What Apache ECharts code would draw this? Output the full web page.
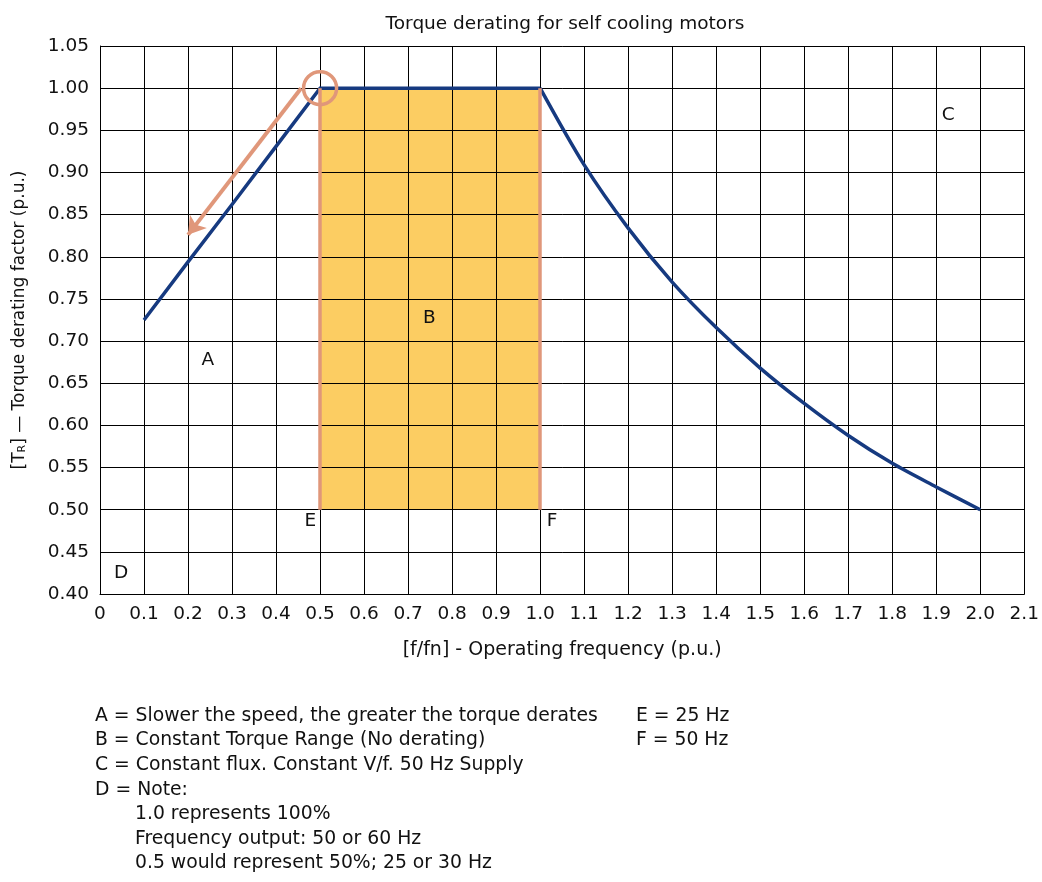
<!DOCTYPE html>
<html>
<head>
<meta charset="utf-8">
<title>Torque derating for self cooling motors</title>
<script src="https://cdn.jsdelivr.net/npm/echarts@6/dist/echarts.min.js"></script>
<style>
  html, body { margin: 0; padding: 0; background: #fff; }
  #chart { width: 1042px; height: 882px; }
</style>
</head>
<body>
<div id="chart"></div>
<script>
// Linear derating below half speed, then flat up to rated frequency
const freqRamp = [0.1, 0.2, 0.3, 0.4, 0.5, 1.0];
const torqueRamp = [0.725, 0.794, 0.862, 0.931, 1.0, 1.0];

// Constant V/f region above rated frequency
const freqCurve = [1.0, 1.1, 1.2, 1.3, 1.4, 1.5, 1.6, 1.7, 1.8, 1.9, 2.0];
const torqueCurve = [1.0, 0.909, 0.834, 0.77, 0.716, 0.668, 0.626, 0.588, 0.555, 0.527, 0.5];

// Constant torque band (E .. F) and its derating floor/ceiling
const bandFreq = [0.5, 1.0];
const bandTorque = [0.5, 1.0];

// Region letters: [label, frequency, torque]
const regionLabels = [
  ['A', 0.245, 0.677],
  ['B', 0.748, 0.727],
  ['C', 1.927, 0.968],
  ['D', 0.048, 0.425],
  ['E', 0.478, 0.486],
  ['F', 1.027, 0.486]
];

// Arrow pointing down the ramp from the corner point
const arrowFrom = [0.457, 1.0];
const arrowTo = [0.2, 0.826];
const cornerPoint = [0.5, 1.0];

const notesLeft = [
  'A = Slower the speed, the greater the torque derates',
  'B = Constant Torque Range (No derating)',
  'C = Constant flux. Constant V/f. 50 Hz Supply',
  'D = Note:'
];
const notesIndented = [
  '1.0 represents 100%',
  'Frequency output: 50 or 60 Hz',
  '0.5 would represent 50%; 25 or 30 Hz'
];
const notesRight = ['E = 25 Hz', 'F = 50 Hz'];

const FONT = 'DejaVu Sans, Liberation Sans, Arial, sans-serif';
const FS = 18.5;
const NAVY = '#163A80';
const SALMON = '#E0977A';
const AMBER = '#FCCD62';
const INK = '#111111';

const chart = echarts.init(document.getElementById('chart'), null, { renderer: 'canvas' });

const pair = (xs, ys) => xs.map((x, i) => [x, ys[i]]);

const graphics = [];
const lineStep = 24.6;
const noteTop = 716;
const noteText = (x, row, t) => ({
  type: 'text', x: x, y: noteTop + row * lineStep,
  style: { text: t, font: '18.8px ' + FONT, fill: INK, verticalAlign: 'middle', align: 'left' }
});
notesLeft.forEach((t, i) => graphics.push(noteText(95, i, t)));
notesIndented.forEach((t, i) => graphics.push(noteText(135, notesLeft.length + i, t)));
notesRight.forEach((t, i) => graphics.push(noteText(636, i, t)));

const option = {
  backgroundColor: '#fff',
  animation: false,
  textStyle: { fontFamily: FONT },
  title: {
    text: 'Torque derating for self cooling motors',
    left: 560, top: 10, textAlign: 'center',
    textStyle: { fontSize: FS, fontWeight: 'normal', color: INK, fontFamily: FONT }
  },
  grid: { left: 100, right: 17, top: 46, bottom: 288, containLabel: false },
  xAxis: {
    type: 'value', min: 0, max: 2.1, interval: 0.1, z: 2,
    name: '[f/fn] - Operating frequency (p.u.)',
    nameLocation: 'middle', nameGap: 47,
    nameTextStyle: { fontSize: 19, color: INK, fontFamily: FONT },
    axisLine: { show: true, lineStyle: { color: '#000', width: 1 } },
    axisTick: { show: false },
    axisLabel: { fontSize: FS, color: INK, margin: 11, fontFamily: FONT,
      formatter: v => (Math.abs(v) < 1e-9 ? '0' : v.toFixed(1)) },
    splitLine: { show: true, lineStyle: { color: '#000', width: 1 } }
  },
  yAxis: {
    type: 'value', min: 0.4, max: 1.05, interval: 0.05, z: 2,
    name: '[T{sub|R}] — Torque derating factor (p.u.)',
    nameLocation: 'middle', nameGap: 72, nameRotate: 90,
    nameTextStyle: { fontSize: 17, color: INK, fontFamily: FONT,
      rich: { sub: { fontSize: 11, color: INK, fontFamily: FONT, padding: [6, 0, 0, 0] } } },
    axisLine: { show: true, lineStyle: { color: '#000', width: 1 } },
    axisTick: { show: false },
    axisLabel: { fontSize: FS, color: INK, margin: 11, fontFamily: FONT,
      formatter: v => v.toFixed(2) },
    splitLine: { show: true, lineStyle: { color: '#000', width: 1 } }
  },
  series: [
    {
      // Shaded constant torque band, kept beneath the grid lines
      name: 'band', type: 'line', z: 1, data: [], silent: true,
      markArea: {
        silent: true,
        itemStyle: { color: AMBER, opacity: 1 },
        data: [[{ coord: [bandFreq[0], bandTorque[0]] }, { coord: [bandFreq[1], bandTorque[1]] }]]
      }
    },
    {
      name: 'band edges', type: 'line', z: 3, data: [], silent: true,
      markLine: {
        silent: true, symbol: ['none', 'none'], label: { show: false },
        lineStyle: { color: SALMON, width: 3.5, type: 'solid' },
        data: bandFreq.map(f => [{ coord: [f, bandTorque[0]] }, { coord: [f, bandTorque[1]] }])
      }
    },
    {
      name: 'ramp', type: 'line', z: 4, data: pair(freqRamp, torqueRamp),
      showSymbol: false, symbol: 'none',
      lineStyle: { color: NAVY, width: 3.5, join: 'miter' }
    },
    {
      name: 'constant flux', type: 'line', z: 4, data: pair(freqCurve, torqueCurve),
      showSymbol: false, symbol: 'none', smooth: 0.3,
      lineStyle: { color: NAVY, width: 3.5 }
    },
    {
      name: 'arrow', type: 'line', z: 5, data: [], silent: true,
      markLine: {
        silent: true, symbol: ['none', 'arrow'], symbolSize: [16, 17],
        label: { show: false },
        lineStyle: { color: SALMON, width: 4, type: 'solid' },
        data: [[{ coord: arrowFrom }, { coord: arrowTo }]]
      }
    },
    {
      name: 'corner', type: 'scatter', z: 5, silent: true,
      data: [cornerPoint], symbol: 'circle', symbolSize: 33,
      itemStyle: { color: 'rgba(0,0,0,0)', borderColor: SALMON, borderWidth: 3.5, opacity: 1 }
    },
    {
      name: 'regions', type: 'scatter', z: 6, silent: true,
      symbolSize: 0, itemStyle: { opacity: 1 },
      data: regionLabels.map(r => ({ name: r[0], value: [r[1], r[2]] })),
      label: { show: true, position: 'inside', formatter: p => p.name, opacity: 1,
        fontSize: FS, color: INK, fontFamily: FONT }
    }
  ],
  graphic: graphics
};

chart.setOption(option);
</script>
</body>
</html>
